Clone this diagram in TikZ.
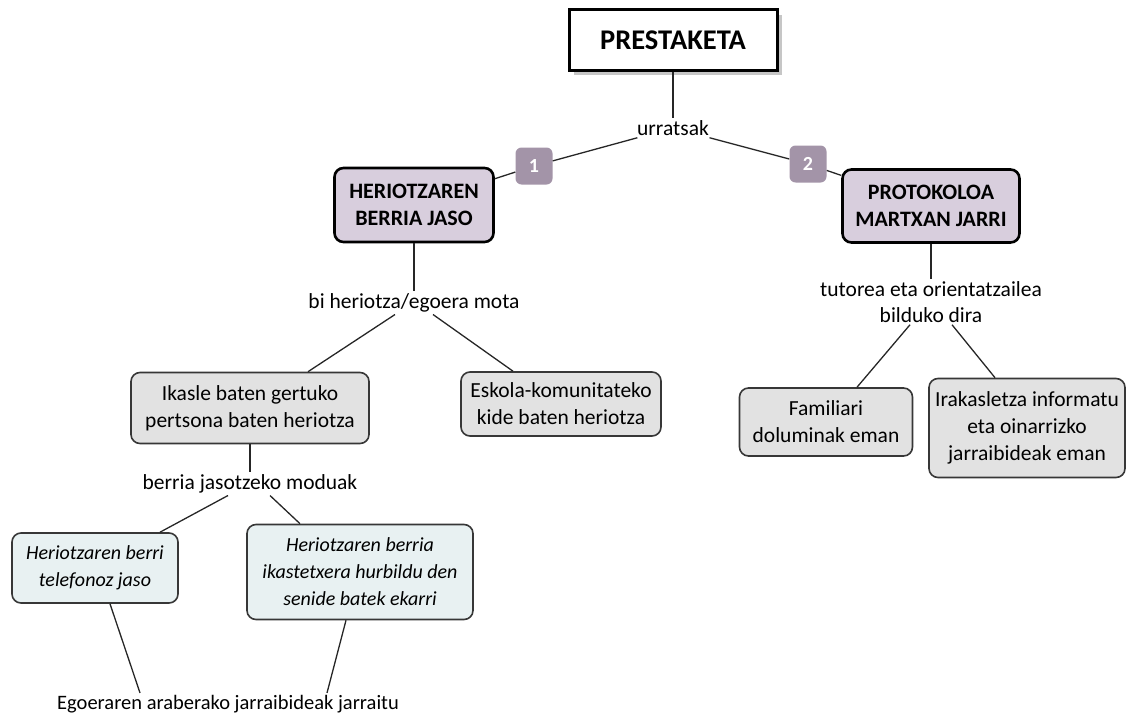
\documentclass[tikz,border=0pt]{standalone}
\usepackage{fontspec}
\setmainfont{Carlito}
\usetikzlibrary{positioning,shadows}

\definecolor{lila}{RGB}{216,206,221}
\definecolor{badgecol}{RGB}{163,148,168}
\definecolor{grisfill}{RGB}{226,226,226}
\definecolor{urdinfill}{RGB}{232,241,242}
\definecolor{ertza}{RGB}{55,55,55}

\begin{document}
\begin{tikzpicture}[x=1pt,y=-1pt,
        txt/.style = {align=center, font=\fontsize{21.5}{26}\selectfont, inner sep=2pt},
        topbox/.style = {
            draw, line width=3pt, minimum width=208pt, minimum height=60pt,
            fill=white, inner sep=0pt,
            drop shadow={shadow xshift=5pt, shadow yshift=-5pt, fill=gray!45, opacity=1},
            font=\fontsize{28.5}{32}\selectfont\bfseries
        },
        mainbox/.style = {
            draw, line width=2.6pt, rounded corners=9pt, fill=lila,
            align=center, inner sep=0pt,
            font=\fontsize{22}{27}\selectfont\bfseries
        },
        subbox/.style = {
            draw=ertza, line width=1.6pt, rounded corners=9pt, fill=grisfill,
            align=center, inner sep=0pt,
            font=\fontsize{21.5}{27}\selectfont
        },
        waybox/.style = {subbox, fill=urdinfill, font=\fontsize{20}{27}\selectfont\itshape},
        badge/.style = {
            fill=badgecol, rounded corners=6pt, minimum size=37pt, inner sep=0pt,
            text=white, font=\fontsize{20}{24}\selectfont\bfseries
        },
        conn/.style = {line width=1.3pt, draw=black!85}]

    \useasboundingbox (0,0) rectangle (1137,717);

    \node[topbox] (prest) at (673,40) {PRESTAKETA};
    \node[txt] (urrats) at (673,128) {urratsak};
    \node[badge] (n1) at (534,166) {1};
    \node[badge] (n2) at (808,164) {2};

    \node[mainbox, minimum width=159pt, minimum height=74pt] (jaso) at (414,205) {HERIOTZAREN\\BERRIA JASO};
    \node[mainbox, minimum width=177pt, minimum height=73pt] (proto) at (931,206) {PROTOKOLOA\\MARTXAN JARRI};

    % lehen adarra
    \node[txt] (mota) at (414,303) {bi heriotza/egoera mota};
    \node[subbox, minimum width=238pt, minimum height=71pt] (ikasle) at (250,408) {Ikasle baten gertuko\\pertsona baten heriotza};
    \node[subbox, minimum width=200pt, minimum height=64pt] (eskola) at (561,404) {Eskola-komunitateko\\kide baten heriotza};
    \node[txt] (moduak) at (250,484) {berria jasotzeko moduak};
    \node[waybox, minimum width=166pt, minimum height=70pt] (telef) at (95,568) {Heriotzaren berri\\telefonoz jaso};
    \node[waybox, minimum width=226pt, minimum height=95pt] (senide) at (360,572) {Heriotzaren berria\\ikastetxera hurbildu den\\senide batek ekarri};
    \node[txt, font=\fontsize{20.5}{26}\selectfont] (egoera) at (228,704) {Egoeraren araberako jarraibideak jarraitu};

    % bigarren adarra
    \node[txt] (tutor) at (931,302) {tutorea eta orientatzailea\\bilduko dira};
    \node[subbox, minimum width=173pt, minimum height=68pt] (famil) at (826,422) {Familiari\\doluminak eman};
    \node[subbox, minimum width=196pt, minimum height=99pt] (irakas) at (1027,428) {Irakasletza informatu\\eta oinarrizko\\jarraibideak eman};

    \draw[conn] (prest) -- (urrats);
    \draw[conn] (urrats) -- (n1);
    \draw[conn] (n1) -- (jaso);
    \draw[conn] (urrats) -- (n2);
    \draw[conn] (n2) -- (proto);

    \draw[conn] (jaso) -- (mota);
    \draw[conn] ([xshift=-19pt]mota.south) -- ([xshift=58pt]ikasle.north);
    \draw[conn] ([xshift=19pt]mota.south) -- ([xshift=-48pt]eskola.north);
    \draw[conn] (ikasle) -- (moduak);
    \draw[conn] ([xshift=-22pt]moduak.south) -- ([xshift=65pt]telef.north);
    \draw[conn] ([xshift=20pt]moduak.south) -- ([xshift=-60pt]senide.north);
    \draw[conn] ([xshift=15pt]telef.south) -- ([xshift=-88pt]egoera.north);
    \draw[conn] ([xshift=-14pt]senide.south) -- ([xshift=99pt]egoera.north);

    \draw[conn] (proto) -- (tutor);
    \draw[conn] ([xshift=-21pt]tutor.south) -- ([xshift=31pt]famil.north);
    \draw[conn] ([xshift=21pt]tutor.south) -- ([xshift=-32pt]irakas.north);
\end{tikzpicture}
\end{document}
